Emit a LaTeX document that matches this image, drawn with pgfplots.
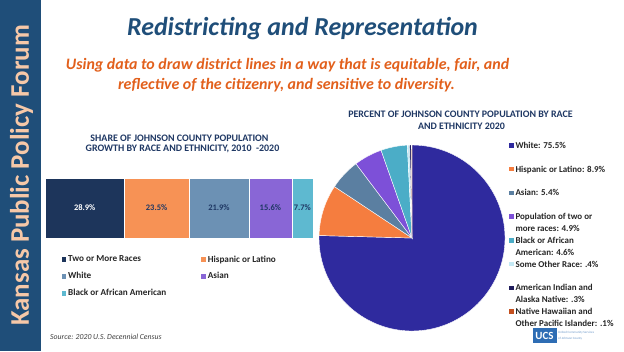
\documentclass[border=0pt]{standalone}
\usepackage{pgfplots}
\pgfplotsset{compat=1.18}
\usepackage{fontspec}
\setmainfont{Carlito}
\definecolor{band}{HTML}{1F4E79}
\definecolor{peach}{HTML}{F6C8A8}
\definecolor{titleblue}{HTML}{1F4E79}
\definecolor{suborange}{HTML}{E2601C}
\definecolor{navy}{HTML}{1F3864}
\definecolor{txt}{HTML}{262626}
\definecolor{bTwo}{HTML}{1D355B}
\definecolor{bHisp}{HTML}{F79255}
\definecolor{bWhite}{HTML}{6C91B4}
\definecolor{bAsian}{HTML}{8966D6}
\definecolor{bBlack}{HTML}{5EB9D0}
\definecolor{pWhite}{HTML}{2F2A9E}
\definecolor{pHisp}{HTML}{F57D3F}
\definecolor{pAsian}{HTML}{5B7FA1}
\definecolor{pTwo}{HTML}{7D50D8}
\definecolor{pBlack}{HTML}{4BADC7}
\definecolor{pOther}{HTML}{C4E9F5}
\definecolor{pAmInd}{HTML}{201D5C}
\definecolor{pNH}{HTML}{C4501F}
\definecolor{ucsblue}{HTML}{2E6DB4}
\begin{document}
\begin{tikzpicture}[x=1bp,y=1bp]
\useasboundingbox (0,0) rectangle (624,351);
\fill[white] (0,0) rectangle (624,351);
% left band
\fill[band] (0,0) rectangle (41,351);
\node[rotate=90, text=peach, font=\bfseries\fontsize{27}{31}\selectfont] at (21.5,175.5) {Kansas Public Policy Forum};
% titles
\node[anchor=base, text=titleblue, font=\bfseries\itshape\fontsize{26}{30}\selectfont] at (302.5,315.5) {Redistricting and Representation};
\node[anchor=base, text=suborange, font=\bfseries\itshape\fontsize{16}{19}\selectfont] at (287.5,281.5) {Using data to draw district lines in a way that is equitable, fair, and};
\node[anchor=base, text=suborange, font=\bfseries\itshape\fontsize{16}{19}\selectfont] at (286.5,261.5) {reflective of the citizenry, and sensitive to diversity.};
% bar chart titles
\node[anchor=base, text=navy, font=\bfseries\fontsize{10}{12}\selectfont] at (179.5,209.3) {SHARE OF JOHNSON COUNTY POPULATION};
\node[anchor=base, text=navy, font=\bfseries\fontsize{10}{12}\selectfont] at (182.5,199.3) {GROWTH BY RACE AND ETHNICITY, 2010\ \ -2020};
% pie titles
\node[anchor=base, text=navy, font=\bfseries\fontsize{10}{12}\selectfont] at (460.5,233.5) {PERCENT OF JOHNSON COUNTY POPULATION BY RACE};
\node[anchor=base, text=navy, font=\bfseries\fontsize{10}{12}\selectfont] at (461.5,222) {AND ETHNICITY 2020};
% source
\node[anchor=base west, text=black!75, font=\itshape\fontsize{7.8}{9}\selectfont, inner sep=0] at (50,12) {Source: 2020 U.S. Decennial Census};
% UCS logo
\fill[ucsblue] (532.5,8) rectangle (556.5,23);
\node[text=white, font=\bfseries\fontsize{11}{12}\selectfont, inner sep=0] at (544.5,15.5) {UCS};
\node[anchor=base west, text=ucsblue!70, font=\fontsize{3.2}{4}\selectfont, inner sep=0] at (558,18) {United Community Services};
\node[anchor=base west, text=ucsblue!70, font=\fontsize{3.2}{4}\selectfont, inner sep=0] at (558,11.5) {of Johnson County};

% stacked bar
\begin{axis}[at={(45bp,113bp)}, anchor=south west, scale only axis,
  width=268bp, height=60bp, xbar stacked, bar width=60bp,
  xmin=0, xmax=97.6, ymin=0.5, ymax=1.5, axis lines=none,
  xtick=\empty, ytick=\empty, clip=false,
  legend columns=2,
  legend cell align=left,
  legend style={at={(0.05,-0.223)}, anchor=north west, draw=none, fill=none,
    font=\bfseries\fontsize{9.2}{11}\selectfont, text=txt, row sep=5bp,
    /tikz/every even column/.append style={column sep=33bp}},
  legend image code/.code={\path[#1,draw=none] (0bp,-2.3bp) rectangle (4.6bp,2.3bp);}]
\addplot[fill=bTwo, draw=white, line width=0.4bp] coordinates {(28.9,1)};
\addplot[fill=bHisp, draw=white, line width=0.4bp] coordinates {(23.5,1)};
\addplot[fill=bWhite, draw=white, line width=0.4bp] coordinates {(21.9,1)};
\addplot[fill=bAsian, draw=white, line width=0.4bp] coordinates {(15.6,1)};
\addplot[fill=bBlack, draw=white, line width=0.4bp] coordinates {(7.7,1)};
\legend{Two or More Races, Hispanic or Latino, White, Asian, Black or African American}
\end{axis}
% bar value labels (segment centres: 45 + 268*c/97.6)
\node[text=white, font=\bfseries\fontsize{8.5}{10}\selectfont] at (84.7,143) {28.9\%};
\node[text=navy, font=\bfseries\fontsize{8.5}{10}\selectfont] at (156.6,143) {23.5\%};
\node[text=navy, font=\bfseries\fontsize{8.5}{10}\selectfont] at (219.0,143) {21.9\%};
\node[text=navy, font=\bfseries\fontsize{8.5}{10}\selectfont] at (270.4,143) {15.6\%};
\node[text=navy, font=\bfseries\fontsize{8.5}{10}\selectfont] at (302.4,143) {7.7\%};

% pie: slices given as cumulative percent start/end (values 75.5, 8.9, 5.4, 4.9, 4.6, .4, .3, .1)
\begin{axis}[at={(319bp,20bp)}, anchor=south west, scale only axis,
  width=186bp, height=186bp, xmin=-1, xmax=1, ymin=-1, ymax=1,
  axis lines=none, xtick=\empty, ytick=\empty, clip=false,
  legend style={at={(1.02,1.032)}, anchor=north west, draw=none, fill=none,
    inner sep=0pt, row sep=-0.6bp,
    font=\bfseries\fontsize{9}{11.7}\selectfont, text=txt,
    cells={anchor=base west, text height=7bp, text depth=2bp, inner ysep=0pt, inner xsep=1.5bp}},
  legend image code/.code={\path[#1,draw=none] (0bp,0.6bp) rectangle (4.6bp,5.2bp);}]
\addlegendimage{fill=pWhite}\addlegendentry{White: 75.5\%}
\addlegendimage{empty legend}\addlegendentry{}
\addlegendimage{fill=pHisp}\addlegendentry{Hispanic or Latino: 8.9\%}
\addlegendimage{empty legend}\addlegendentry{}
\addlegendimage{fill=pAsian}\addlegendentry{Asian: 5.4\%}
\addlegendimage{empty legend}\addlegendentry{}
\addlegendimage{fill=pTwo}\addlegendentry{Population of two or}
\addlegendimage{empty legend}\addlegendentry{more races: 4.9\%}
\addlegendimage{fill=pBlack}\addlegendentry{Black or African}
\addlegendimage{empty legend}\addlegendentry{American: 4.6\%}
\addlegendimage{fill=pOther}\addlegendentry{Some Other Race: .4\%}
\addlegendimage{empty legend}\addlegendentry{}
\addlegendimage{fill=pAmInd}\addlegendentry{American Indian and}
\addlegendimage{empty legend}\addlegendentry{Alaska Native: .3\%}
\addlegendimage{fill=pNH}\addlegendentry{Native Hawaiian and}
\addlegendimage{empty legend}\addlegendentry{Other Pacific Islander: .1\%}
\foreach \sa/\sb/\col in {0/75.5/pWhite, 75.5/84.4/pHisp, 84.4/89.8/pAsian, 89.8/94.7/pTwo, 94.7/99.3/pBlack, 99.3/99.7/pOther, 99.7/100.0/pAmInd, 100.0/100.1/pNH} {
  \pgfmathsetmacro{\angA}{90-3.6*(\sa/1.001)}
  \pgfmathsetmacro{\angB}{90-3.6*(\sb/1.001)}
  \pgfmathsetmacro{\xa}{cos(\angA)}
  \pgfmathsetmacro{\ya}{sin(\angA)}
  \edef\temp{\noexpand\fill[\col, draw=white, line width=0.4bp] (axis cs:0,0) -- (axis cs:\xa,\ya) arc[start angle=\angA, end angle=\angB, radius=93bp] -- cycle;}
  \temp
}
\end{axis}
\end{tikzpicture}
\end{document}
